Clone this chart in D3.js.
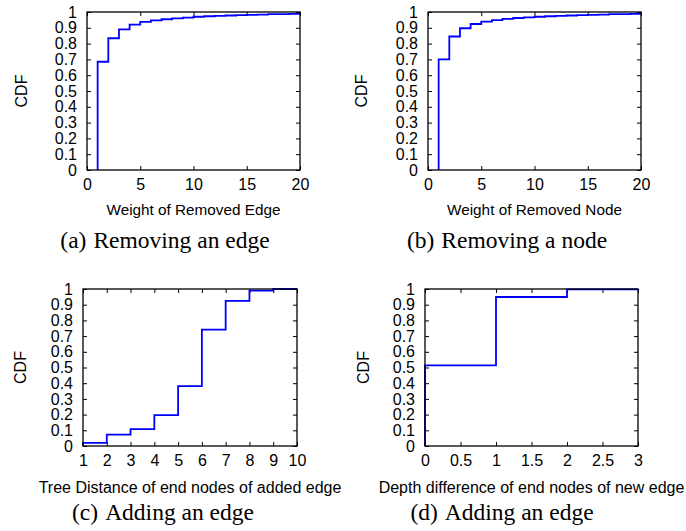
<!DOCTYPE html>
<html>
<head>
<meta charset="utf-8">
<script src="https://cdn.jsdelivr.net/npm/d3@7"></script>
<style>
  body { margin: 0; background: #fff; }
  .tick text { font-family: "Liberation Sans", Arial, sans-serif; font-size: 16px; fill: #000; }
  .title { font-family: "Liberation Sans", Arial, sans-serif; }
  .ylab { font-family: "Liberation Sans", Arial, sans-serif; font-size: 16px; }
  .caption { font-family: "Liberation Serif", "Times New Roman", serif; font-size: 23.5px; }
</style>
</head>
<body>
<script>
// values
var edgeWeight = [1,2,3,4,5,6,7,8,9,10,11,12,13,14,15,16,17,18,19,20]
var edgeCdf = [0.685,0.834,0.89,0.92,0.937,0.947,0.954,0.96,0.965,0.97,0.973,0.976,0.978,0.98,0.982,0.984,0.986,0.987,0.988,0.99]
var nodeWeight = [1,2,3,4,5,6,7,8,9,10,11,12,13,14,15,16,17,18,19,20]
var nodeCdf = [0.70,0.845,0.897,0.924,0.939,0.949,0.956,0.962,0.966,0.97,0.973,0.976,0.978,0.98,0.982,0.984,0.986,0.987,0.988,0.99]
var treeDist = [1,2,3,4,5,6,7,8,9,10]
var treeDistCdf = [0.02,0.072,0.108,0.197,0.382,0.741,0.925,0.99,1,1]
var depthDiff = [0,1,2,3]
var depthDiffCdf = [0.513,0.949,0.997,1]
var yTicks = [0,0.1,0.2,0.3,0.4,0.5,0.6,0.7,0.8,0.9,1]

var panels = [
    {x: edgeWeight, y: edgeCdf, domain: [0, 20], ticks: [0,5,10,15,20],
     title: "Weight of Removed Edge", tag: "(a)", caption: "Removing an edge",
     box: [87, 12, 300, 170], labX: 27, capX: 165, titleDy: 45, capDy: 78, titleSize: 15.3},
    {x: nodeWeight, y: nodeCdf, domain: [0, 20], ticks: [0,5,10,15,20],
     title: "Weight of Removed Node", tag: "(b)", caption: "Removing a node",
     box: [428, 12, 641, 170], labX: 367, capX: 507, titleDy: 45, capDy: 78, titleSize: 15.3},
    {x: treeDist, y: treeDistCdf, domain: [1, 10], ticks: [1,2,3,4,5,6,7,8,9,10],
     title: "Tree Distance of end nodes of added edge", tag: "(c)", caption: "Adding an edge",
     box: [83, 289, 297, 446], labX: 26, capX: 163, titleDy: 47, capDy: 74, titleSize: 16},
    {x: depthDiff, y: depthDiffCdf, domain: [0, 3], ticks: [0,0.5,1,1.5,2,2.5,3],
     title: "Depth difference of end nodes of new edge", tag: "(d)", caption: "Adding an edge",
     box: [425, 289, 638, 446], labX: 369, capX: 502, titleDy: 47, capDy: 74, titleSize: 16}
]

var svg = d3.select("body")
    .append("svg")
    .attr("width", 686)
    .attr("height", 531)

panels.forEach(function (p) {
    var x0 = p.box[0], y0 = p.box[1], x1 = p.box[2], y1 = p.box[3]
    var w = x1 - x0, h = y1 - y0

    var xScale = d3.scaleLinear().domain(p.domain).range([0, w])
    var yScale = d3.scaleLinear().domain([0, 1]).range([h, 0])

    var g = svg.append("g")
        .attr("transform", "translate(" + x0 + "," + y0 + ")")

    // axes with inward ticks, mirrored on top and right
    g.append("g")
        .attr("transform", "translate(0," + h + ")")
        .call(d3.axisBottom(xScale).tickValues(p.ticks).tickSize(-4).tickPadding(9)
            .tickFormat(d3.format("")))
    g.append("g")
        .call(d3.axisTop(xScale).tickValues(p.ticks).tickSize(-4).tickFormat(""))
    g.append("g")
        .call(d3.axisLeft(yScale).tickValues(yTicks).tickSize(-4).tickPadding(10)
            .tickFormat(d3.format("")))
    g.append("g")
        .attr("transform", "translate(" + w + ",0)")
        .call(d3.axisRight(yScale).tickValues(yTicks).tickSize(-4).tickFormat(""))

    g.selectAll(".domain").remove()
    g.selectAll(".tick line").attr("stroke", "#000").attr("stroke-width", 1)

    // CDF step line
    var pts = [[p.x[0], 0]]
    p.x.forEach(function (v, i) { pts.push([v, p.y[i]]) })
    pts.push([p.domain[1], p.y[p.y.length - 1]])

    var line = d3.line()
        .x(function (d) { return xScale(d[0]) })
        .y(function (d) { return yScale(d[1]) })
        .curve(d3.curveStepAfter)

    g.append("path")
        .datum(pts)
        .attr("fill", "none")
        .attr("stroke", "#0000ff")
        .attr("stroke-width", 1.8)
        .attr("d", line)

    g.append("rect")
        .attr("width", w)
        .attr("height", h)
        .attr("fill", "none")
        .attr("stroke", "#000")
        .attr("stroke-width", 1.3)

    svg.append("text")
        .attr("class", "ylab")
        .attr("transform", "translate(" + p.labX + "," + (y0 + h / 2) + ") rotate(-90)")
        .attr("text-anchor", "middle")
        .text("CDF")

    g.append("text")
        .attr("class", "title")
        .attr("x", w / 2)
        .attr("y", h + p.titleDy)
        .attr("text-anchor", "middle")
        .style("font-size", p.titleSize + "px")
        .text(p.title)

    var cap = svg.append("text")
        .attr("class", "caption")
        .attr("x", p.capX)
        .attr("y", y1 + p.capDy)
        .attr("text-anchor", "middle")
    cap.append("tspan").text(p.tag)
    cap.append("tspan").attr("dx", 7).text(p.caption)
})
</script>
</body>
</html>
